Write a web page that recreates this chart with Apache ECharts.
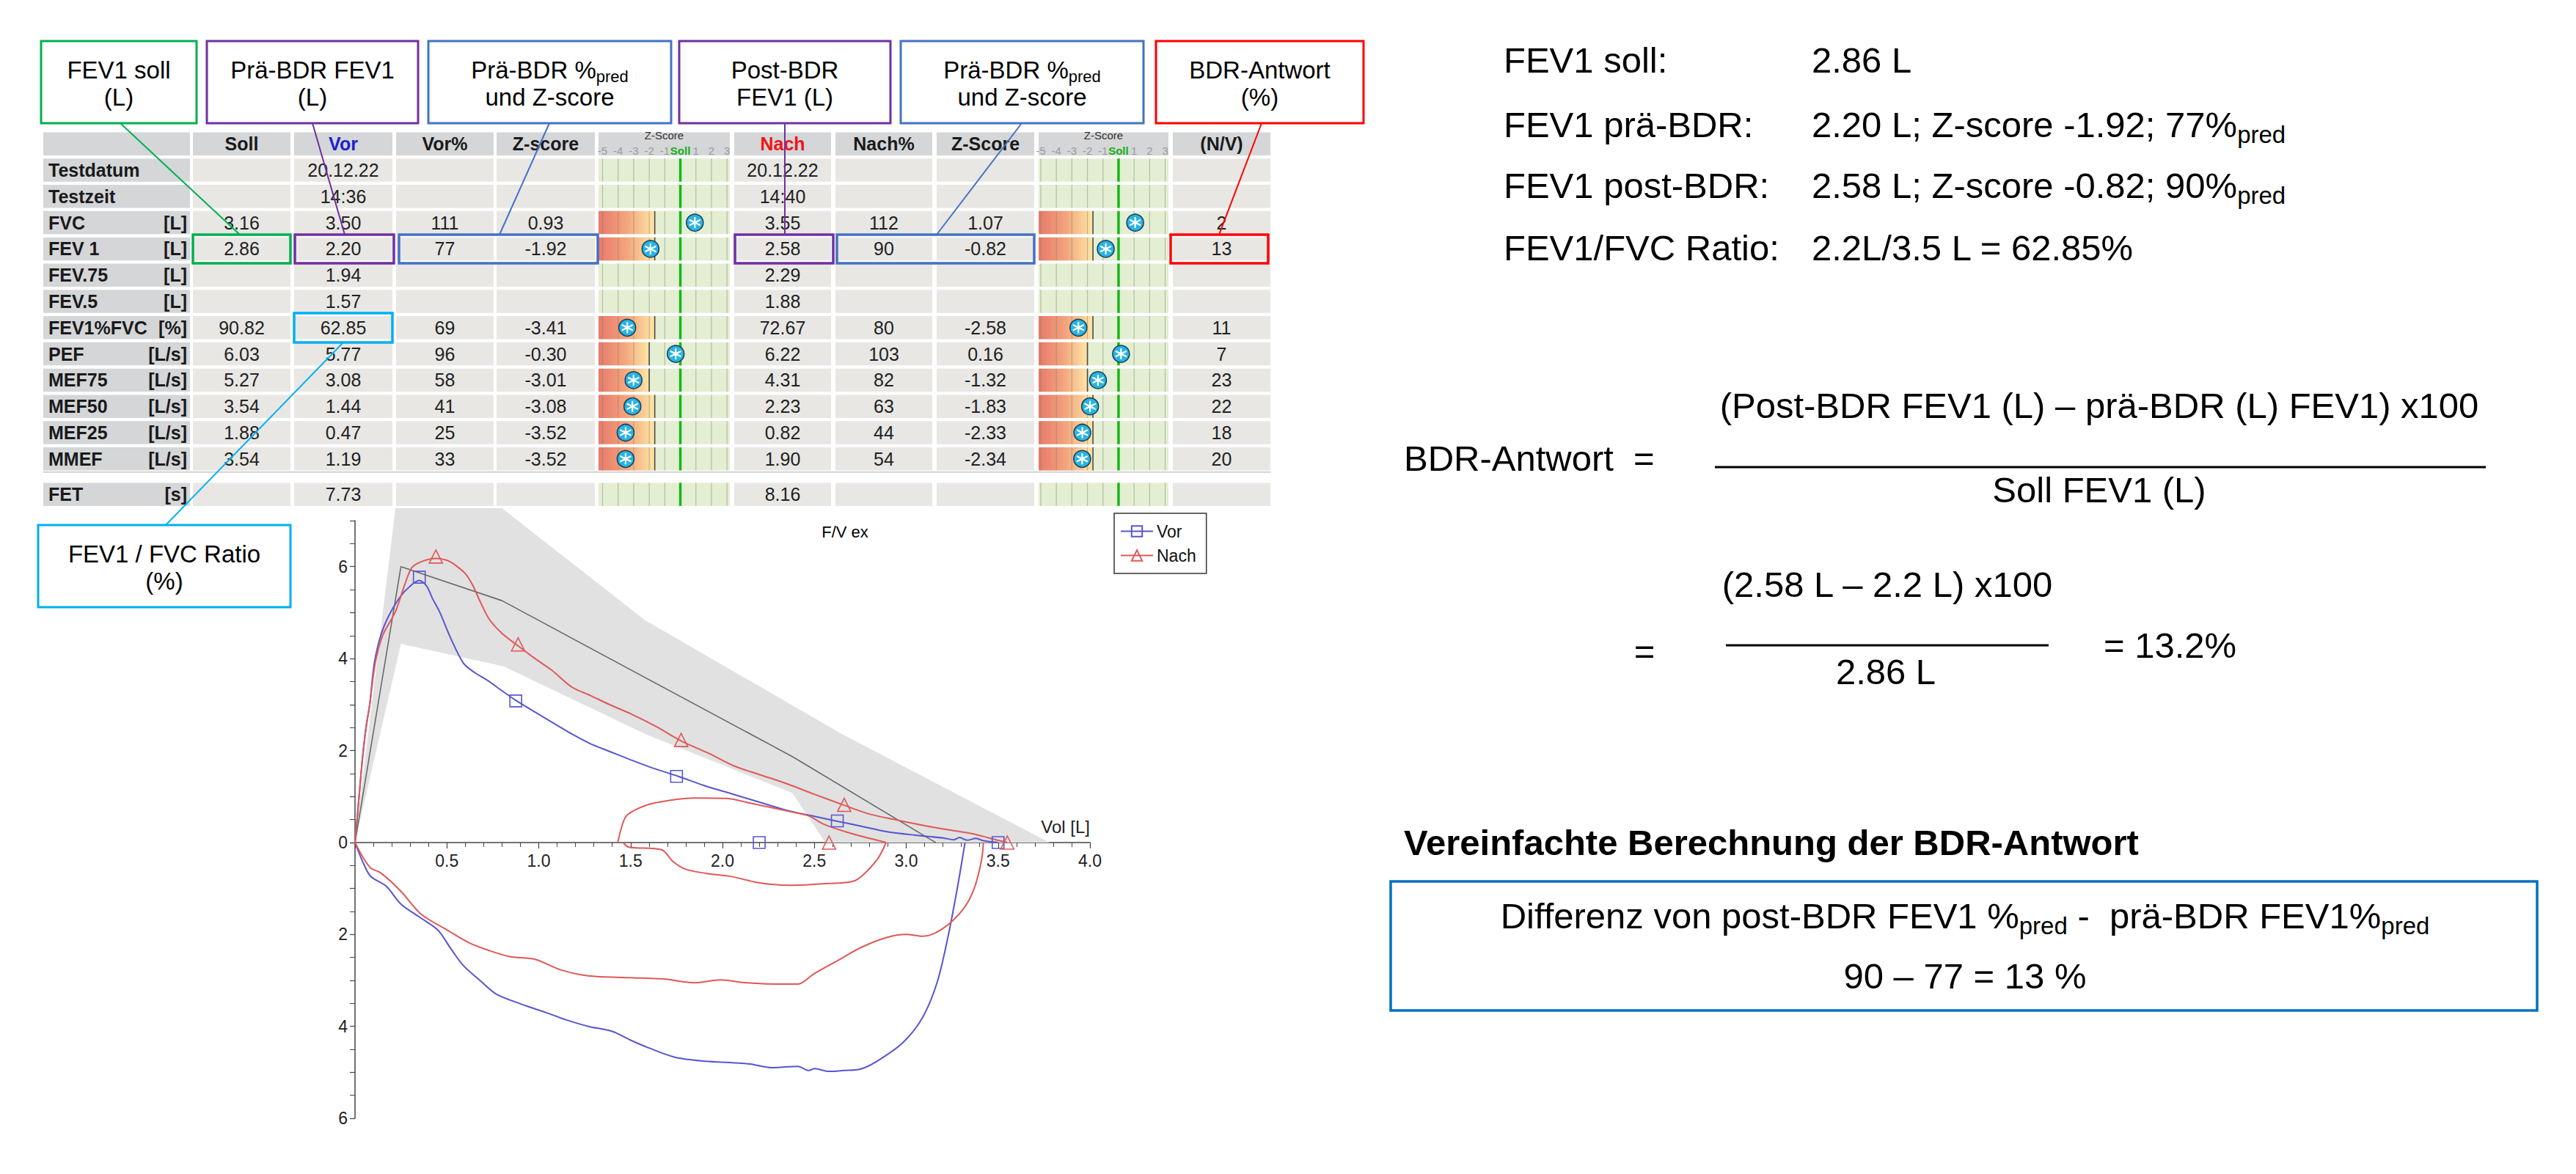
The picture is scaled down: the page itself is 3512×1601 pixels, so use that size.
<!DOCTYPE html>
<html>
<head>
<meta charset="utf-8">
<title>FEV1 BDR-Antwort</title>
<script src="https://cdn.jsdelivr.net/npm/echarts@6.0.0/dist/echarts.min.js"></script>
<style>
  html, body { margin: 0; padding: 0; background: #fff; }
  #chart { width: 3512px; height: 1601px; }
</style>
</head>
<body>
<div id="chart"></div>
<script>
const FONT = '"Liberation Sans", Arial, Helvetica, sans-serif';

// ---------- Tabellenwerte ----------
const rowLabels = ['Testdatum', 'Testzeit', 'FVC', 'FEV 1', 'FEV.75', 'FEV.5', 'FEV1%FVC', 'PEF', 'MEF75', 'MEF50', 'MEF25', 'MMEF', 'FET'];
const rowUnits = ['', '', '[L]', '[L]', '[L]', '[L]', '[%]', '[L/s]', '[L/s]', '[L/s]', '[L/s]', '[L/s]', '[s]'];
const headerLabels = ['', 'Soll', 'Vor', 'Vor%', 'Z-score', '', 'Nach', 'Nach%', 'Z-Score', '', '(N/V)'];
const sollValues = ['', '', '3.16', '2.86', '', '', '90.82', '6.03', '5.27', '3.54', '1.88', '3.54', ''];
const vorValues = ['20.12.22', '14:36', '3.50', '2.20', '1.94', '1.57', '62.85', '5.77', '3.08', '1.44', '0.47', '1.19', '7.73'];
const vorPercent = [null, null, 111, 77, null, null, 69, 96, 58, 41, 25, 33, null];
const vorZ = [null, null, 0.93, -1.92, null, null, -3.41, -0.30, -3.01, -3.08, -3.52, -3.52, null];
const nachValues = ['20.12.22', '14:40', '3.55', '2.58', '2.29', '1.88', '72.67', '6.22', '4.31', '2.23', '0.82', '1.90', '8.16'];
const nachPercent = [null, null, 112, 90, null, null, 80, 103, 82, 63, 44, 54, null];
const nachZ = [null, null, 1.07, -0.82, null, null, -2.58, 0.16, -1.32, -1.83, -2.33, -2.34, null];
const changeValues = [null, null, 2, 13, null, null, 11, 7, 23, 22, 18, 20, null];
const lowerLimitZ = [null, null, -1.645, -1.645, null, null, -1.645, -2.0, -2.0, -1.645, -1.645, -1.645, null];
const zTickValues = [-5, -4, -3, -2, -1, 0, 1, 2, 3];

// ---------- Fluss-Volumen-Kurve ----------
const predLine = [[0, 0], [0.25, 6.0], [0.80, 5.26], [2.38, 1.87], [3.16, 0]];
const bandOutline = [[0, 0], [0.22, 7.27], [0.80, 7.27], [1.58, 4.83], [2.65, 2.36], [3.78, 0],
  [2.56, 0], [2.38, 1.08], [2.06, 1.59], [1.58, 2.36], [0.81, 3.83], [0.25, 4.32]];
const vorExp = [[0, 0], [0.02, 0.9], [0.04, 1.8], [0.06, 2.5], [0.08, 3.0], [0.105, 3.9], [0.14, 4.5],
  [0.18, 4.9], [0.23, 5.25], [0.28, 5.5], [0.35, 5.7], [0.39, 5.58], [0.42, 5.32], [0.46, 5.02],
  [0.52, 4.45], [0.59, 3.9], [0.65, 3.7], [0.72, 3.53], [0.80, 3.3], [0.88, 3.08], [1.0, 2.79],
  [1.1, 2.55], [1.18, 2.36], [1.28, 2.15], [1.38, 1.99], [1.5, 1.8], [1.62, 1.62], [1.76, 1.44],
  [1.9, 1.24], [2.05, 1.06], [2.2, 0.88], [2.36, 0.69], [2.5, 0.57], [2.63, 0.46], [2.76, 0.35],
  [2.89, 0.24], [3.05, 0.16], [3.2, 0.1], [3.26, 0.06], [3.29, 0.11], [3.33, 0.05], [3.38, 0.09],
  [3.42, 0.04], [3.5, 0]];
const vorInsp = [[3.32, 0], [3.28, -0.95], [3.23, -2.0], [3.17, -3.02], [3.09, -3.8], [2.98, -4.36],
  [2.84, -4.76], [2.75, -4.93], [2.66, -4.96], [2.58, -4.98], [2.50, -4.92], [2.47, -4.96],
  [2.41, -4.87], [2.27, -4.9], [2.15, -4.82], [2.05, -4.79], [1.91, -4.76], [1.74, -4.67],
  [1.60, -4.47], [1.50, -4.3], [1.40, -4.11], [1.27, -4.0], [1.15, -3.86], [1.04, -3.7],
  [0.93, -3.55], [0.77, -3.3], [0.68, -3.0], [0.59, -2.68], [0.52, -2.3], [0.45, -1.9],
  [0.35, -1.62], [0.25, -1.34], [0.17, -0.95], [0.084, -0.73], [0.04, -0.4], [0, 0]];
const nachExp = [[0, 0], [0.02, 0.9], [0.04, 1.8], [0.06, 2.5], [0.08, 3.0], [0.11, 3.9], [0.15, 4.5],
  [0.22, 5.02], [0.27, 5.6], [0.31, 5.98], [0.37, 6.12], [0.44, 6.18], [0.50, 6.14], [0.54, 6.05],
  [0.60, 5.85], [0.64, 5.6], [0.68, 5.25], [0.73, 4.86], [0.80, 4.55], [0.89, 4.27], [0.98, 4.0],
  [1.07, 3.75], [1.18, 3.38], [1.28, 3.2], [1.38, 3.01], [1.5, 2.8], [1.64, 2.52], [1.78, 2.2],
  [1.92, 1.95], [2.06, 1.67], [2.2, 1.48], [2.35, 1.28], [2.5, 1.05], [2.67, 0.8], [2.8, 0.62],
  [2.95, 0.49], [3.15, 0.33], [3.36, 0.19], [3.45, 0.1], [3.55, 0]];
const nachInsp = [[3.42, 0], [3.41, -0.38], [3.37, -1.0], [3.31, -1.45], [3.2, -1.87], [3.09, -2.04],
  [3.0, -2.0], [2.89, -2.07], [2.75, -2.29], [2.64, -2.54], [2.50, -2.85], [2.41, -3.08],
  [2.33, -3.08], [2.13, -3.05], [1.99, -2.99], [1.85, -3.05], [1.68, -2.97], [1.49, -2.94],
  [1.27, -2.9], [1.12, -2.77], [0.98, -2.54], [0.84, -2.48], [0.73, -2.35], [0.62, -2.18],
  [0.50, -1.9], [0.36, -1.56], [0.25, -1.06], [0.14, -0.66], [0.084, -0.55], [0.04, -0.3], [0, 0]];
const nachLoopUpper = [[1.43, 0], [1.47, 0.54], [1.52, 0.7], [1.63, 0.86], [1.85, 0.97], [2.02, 0.96],
  [2.16, 0.85], [2.36, 0.68], [2.47, 0.58], [2.55, 0.40], [2.69, 0.21], [2.89, 0]];
const nachLoopLower = [[2.89, 0], [2.84, -0.38], [2.72, -0.83], [2.58, -0.89], [2.36, -0.93],
  [2.19, -0.87], [2.05, -0.74], [1.91, -0.67], [1.80, -0.58], [1.73, -0.41], [1.67, -0.16],
  [1.49, -0.10], [1.46, 0]];
const vorMarkers = [[0.35, 5.77], [0.875, 3.08], [1.75, 1.44], [2.625, 0.47], [2.20, 0], [3.50, 0]];
const nachMarkers = [[0.44, 6.22], [0.8875, 4.31], [1.775, 2.23], [2.6625, 0.82], [2.58, 0], [3.55, 0]];

// ---------- Layout ----------
const ROW_Y0 = 232, ROW_H = 35.8, CELL_HALF = 0.44;
const rowPos = [0, 1, 2, 3, 4, 5, 6, 7, 8, 9, 10, 11, 12.35];
const rowPx = v => ROW_Y0 + ROW_H * v;
const colEdges = [[59, 259], [263, 396], [401, 535], [540, 673], [677, 811], [816, 995],
  [1001, 1133], [1139, 1271], [1277, 1410], [1416, 1593], [1599, 1732]];
const headerColors = { 2: '#1f1fd0', 6: '#f01414' };
const VOR_COLOR = '#5656d0', NACH_COLOR = '#e05858';
const PLOT_LEFT = 484, PLOT_W = 1002, PLOT_TOP = 710, ZERO_Y = 1149, PLOT_BOTTOM = 1525;

function textEl(text, x, y, align, weight, color, size) {
  return {
    type: 'text',
    style: {
      text, x, y, align, textAlign: align, verticalAlign: 'middle', textVerticalAlign: 'middle',
      fill: color, font: `${weight} ${size || 25}px ${FONT}`
    }
  };
}

function cellText(col, row) {
  const fz = z => (z == null ? '' : z.toFixed(2));
  const s = x => (x == null ? '' : String(x));
  switch (col) {
    case 1: return sollValues[row];
    case 2: return vorValues[row];
    case 3: return s(vorPercent[row]);
    case 4: return fz(vorZ[row]);
    case 6: return nachValues[row];
    case 7: return s(nachPercent[row]);
    case 8: return fz(nachZ[row]);
    case 10: return s(changeValues[row]);
  }
  return '';
}

function renderTableCell(params, api) {
  const col = api.value(0);
  const row = api.value(1);
  const header = row < 0;
  const v = header ? -1 : rowPos[row];
  const [left, right] = colEdges[col];
  const p0 = api.coord([left, v - CELL_HALF]);
  const p1 = api.coord([right, v + CELL_HALF]);
  const cy = (p0[1] + p1[1]) / 2;
  const children = [{
    type: 'rect',
    shape: { x: p0[0], y: p0[1], width: p1[0] - p0[0], height: p1[1] - p0[1] },
    style: { fill: header || col === 0 ? '#d4d6d8' : '#e8e7e4' }
  }];
  if (header) {
    if (headerLabels[col]) {
      children.push(textEl(headerLabels[col], (p0[0] + p1[0]) / 2, cy, 'center', 'bold', headerColors[col] || '#1a1a1a'));
    }
  } else if (col === 0) {
    children.push(textEl(rowLabels[row], p0[0] + 7, cy, 'left', 'bold', '#1a1a1a'));
    if (rowUnits[row]) children.push(textEl(rowUnits[row], p1[0] - 4, cy, 'right', 'bold', '#1a1a1a'));
  } else {
    const t = cellText(col, row);
    if (t) children.push(textEl(t, (p0[0] + p1[0]) / 2, cy, 'center', 'normal', '#222'));
  }
  return { type: 'group', children };
}

function makeZCellRenderer(zValues, zMin, zMax) {
  return function (params, api) {
    const row = api.value(1);
    const v = rowPos[row];
    const p0 = api.coord([zMin, v - CELL_HALF]);
    const p1 = api.coord([zMax, v + CELL_HALF]);
    const y0 = p0[1], h = p1[1] - p0[1];
    const children = [{ type: 'rect', shape: { x: p0[0], y: y0, width: p1[0] - p0[0], height: h }, style: { fill: '#e3eed3' } }];
    const hasValue = zValues[row] != null;
    let llnX = 0;
    if (hasValue) {
      llnX = api.coord([lowerLimitZ[row], v])[0];
      children.push({
        type: 'rect',
        shape: { x: p0[0], y: y0, width: llnX - p0[0], height: h },
        style: {
          fill: new echarts.graphic.LinearGradient(0, 0, 1, 0, [
            { offset: 0, color: '#e8796a' }, { offset: 0.5, color: '#f3a47d' }, { offset: 1, color: '#fee6a6' }
          ])
        }
      });
    }
    zTickValues.forEach(t => {
      const x = api.coord([t, v])[0];
      children.push({
        type: 'line',
        shape: { x1: x, y1: y0, x2: x, y2: y0 + h },
        style: { stroke: t === 0 ? '#14b814' : 'rgba(120,130,100,0.45)', lineWidth: t === 0 ? 3.5 : 1.2 }
      });
    });
    if (hasValue) {
      children.push({ type: 'line', shape: { x1: llnX, y1: y0, x2: llnX, y2: y0 + h }, style: { stroke: '#4a4a4a', lineWidth: 1.6 } });
    }
    return { type: 'group', children };
  };
}

function zAxis(gridIndex, min, max) {
  return {
    type: 'value', gridIndex, min, max, position: 'top', z: 10,
    name: 'Z-Score', nameLocation: 'middle', nameGap: 24,
    nameTextStyle: { fontSize: 15, color: '#333', fontFamily: FONT },
    axisLine: { show: false }, axisTick: { show: false }, splitLine: { show: false },
    axisLabel: {
      customValues: zTickValues, margin: 3, fontSize: 15, color: '#9a9a9a', fontFamily: FONT,
      formatter: v => (v === 0 ? '{soll|Soll}' : String(v)),
      rich: { soll: { color: '#16b016', fontWeight: 'bold', fontSize: 15, fontFamily: FONT } }
    }
  };
}

function hiddenAxis(gridIndex, min, max, inverse) {
  return { type: 'value', gridIndex, min, max, inverse: !!inverse, show: false };
}

function zMarkers(zValues) {
  return zValues.map((z, i) => (z == null ? null : [z, rowPos[i]])).filter(Boolean);
}

const ASTERISK = 'path://M10 1 L10 19 M2.2 5.5 L17.8 14.5 M2.2 14.5 L17.8 5.5';

function zSeries(axisIndex, zValues, zMin, zMax) {
  const rows = rowPos.map((p, i) => [0, i]);
  return [
    { type: 'custom', xAxisIndex: axisIndex, yAxisIndex: axisIndex, renderItem: makeZCellRenderer(zValues, zMin, zMax), data: rows, silent: true, z: 2 },
    { type: 'scatter', xAxisIndex: axisIndex, yAxisIndex: axisIndex, data: zMarkers(zValues), symbol: 'circle', symbolSize: 23,
      itemStyle: { color: '#27b4e4', borderColor: '#1d3c55', borderWidth: 1.5, opacity: 1 }, silent: true, z: 4 },
    { type: 'scatter', xAxisIndex: axisIndex, yAxisIndex: axisIndex, data: zMarkers(zValues), symbol: ASTERISK, symbolSize: 15,
      itemStyle: { color: 'rgba(0,0,0,0)', borderColor: '#fff', borderWidth: 2.2, opacity: 1 }, silent: true, z: 5 }
  ];
}

const tableData = [];
for (let r = -1; r < rowLabels.length; r++) {
  for (let c = 0; c < colEdges.length; c++) {
    if (r >= 0 && (c === 5 || c === 9)) continue;
    tableData.push([c, r]);
  }
}

// ---------- Beschriftungen ----------
const boxRich = {
  t: { fontSize: 33, fontFamily: FONT, lineHeight: 40 },
  s: { fontSize: 22, fontFamily: FONT, lineHeight: 20, verticalAlign: 'bottom' }
};
const bigRich = {
  t: { fontSize: 49, fontFamily: FONT, lineHeight: 60 },
  s: { fontSize: 33, fontFamily: FONT, lineHeight: 30, verticalAlign: 'bottom' }
};
const calloutBoxes = [
  { x: 56, y: 56, w: 212, h: 112, color: '#00b050', lines: ['FEV1 soll', '(L)'] },
  { x: 282, y: 56, w: 288, h: 112, color: '#7030a0', lines: ['Prä-BDR FEV1', '(L)'] },
  { x: 584, y: 56, w: 331, h: 112, color: '#4472c4', lines: ['{t|Prä-BDR %}{s|pred}', 'und Z-score'] },
  { x: 926, y: 56, w: 288, h: 112, color: '#7030a0', lines: ['Post-BDR', 'FEV1 (L)'] },
  { x: 1228, y: 56, w: 331, h: 112, color: '#4472c4', lines: ['{t|Prä-BDR %}{s|pred}', 'und Z-score'] },
  { x: 1576, y: 56, w: 283, h: 112, color: '#ff0000', lines: ['BDR-Antwort', '(%)'] },
  { x: 52, y: 716, w: 344, h: 112, color: '#00b0f0', lines: ['FEV1 / FVC Ratio', '(%)'] }
];
const highlightRects = [
  { x: 263, y: 320, w: 133, h: 39, color: '#00b050' },
  { x: 402, y: 320, w: 135, h: 39, color: '#7030a0' },
  { x: 544, y: 320, w: 271, h: 39, color: '#4472c4' },
  { x: 1002, y: 320, w: 134, h: 39, color: '#7030a0' },
  { x: 1141, y: 320, w: 269, h: 39, color: '#4472c4' },
  { x: 1596, y: 320, w: 133, h: 39, color: '#ff0000' },
  { x: 401, y: 427, w: 134, h: 40, color: '#00b0f0' }
];
const connectors = [
  { from: [164, 168], to: [327, 320], color: '#00b050' },
  { from: [426, 168], to: [470, 320], color: '#7030a0' },
  { from: [749, 168], to: [681, 320], color: '#4472c4' },
  { from: [1070, 168], to: [1070, 320], color: '#7030a0' },
  { from: [1393, 168], to: [1277, 320], color: '#4472c4' },
  { from: [1720, 168], to: [1662, 320], color: '#ff0000' },
  { from: [468, 467], to: [226, 716], color: '#00b0f0' }
];
const summaryLabels = ['FEV1 soll:', 'FEV1 prä-BDR:', 'FEV1 post-BDR:', 'FEV1/FVC Ratio:'];
const summaryValues = ['2.86 L', '{t|2.20 L; Z-score -1.92; 77%}{s|pred}', '{t|2.58 L; Z-score -0.82; 90%}{s|pred}', '2.2L/3.5 L = 62.85%'];
const summaryY = [82, 170, 253, 338];

function gText(text, x, y, align, opts) {
  opts = opts || {};
  return {
    type: 'text', z: 60,
    style: {
      text, x, y, align, textAlign: align, verticalAlign: 'middle', textVerticalAlign: 'middle',
      fill: '#000', font: `${opts.weight || 'normal'} ${opts.size || 49}px ${FONT}`, rich: opts.rich || bigRich
    }
  };
}

const graphics = [];
// Trennlinie vor FET
graphics.push({ type: 'line', z: 40, shape: { x1: 59, y1: rowPx(11.5), x2: 1732, y2: rowPx(11.5) }, style: { stroke: '#d2d2d2', lineWidth: 2 } });
calloutBoxes.forEach(b => {
  graphics.push({ type: 'rect', z: 50, shape: { x: b.x, y: b.y, width: b.w, height: b.h }, style: { fill: '#fff', stroke: b.color, lineWidth: 3 } });
  b.lines.forEach((t, i) => graphics.push(gText(t, b.x + b.w / 2, b.y + 39 + i * 37, 'center', { size: 33, rich: boxRich })));
});
highlightRects.forEach(r => graphics.push({ type: 'rect', z: 55, shape: { x: r.x, y: r.y, width: r.w, height: r.h }, style: { fill: 'none', stroke: r.color, lineWidth: 3.5 } }));
connectors.forEach(c => graphics.push({ type: 'line', z: 56, shape: { x1: c.from[0], y1: c.from[1], x2: c.to[0], y2: c.to[1] }, style: { stroke: c.color, lineWidth: 2 } }));
summaryLabels.forEach((t, i) => {
  graphics.push(gText(t, 2050, summaryY[i], 'left'));
  graphics.push(gText(summaryValues[i], 2470, summaryY[i], 'left'));
});
// Formel
graphics.push(gText('BDR-Antwort  =', 1914, 625, 'left'));
graphics.push(gText('(Post-BDR FEV1 (L) – prä-BDR (L) FEV1) x100', 2862, 553, 'center'));
graphics.push({ type: 'line', z: 60, shape: { x1: 2338, y1: 637, x2: 3389, y2: 637 }, style: { stroke: '#000', lineWidth: 3 } });
graphics.push(gText('Soll FEV1 (L)', 2862, 668, 'center'));
graphics.push(gText('=', 2242, 888, 'center'));
graphics.push(gText('(2.58 L – 2.2 L) x100', 2573, 797, 'center'));
graphics.push({ type: 'line', z: 60, shape: { x1: 2353, y1: 880, x2: 2793, y2: 880 }, style: { stroke: '#000', lineWidth: 3 } });
graphics.push(gText('2.86 L', 2571, 916, 'center'));
graphics.push(gText('= 13.2%', 2868, 880, 'left'));
// Vereinfachte Berechnung
graphics.push(gText('Vereinfachte Berechnung der BDR-Antwort', 1914, 1149, 'left', { weight: 'bold' }));
graphics.push({ type: 'rect', z: 58, shape: { x: 1896, y: 1202, width: 1563, height: 176 }, style: { fill: '#fff', stroke: '#0070c0', lineWidth: 3.5 } });
graphics.push(gText('{t|Differenz von post-BDR FEV1 %}{s|pred}{t| -  prä-BDR FEV1%}{s|pred}', 2679, 1249, 'center'));
graphics.push(gText('90 – 77 = 13 %', 2679, 1331, 'center'));
// Diagrammtitel
graphics.push(gText('F/V ex', 1152, 725, 'center', { size: 22 }));

const lineBase = { type: 'line', smooth: 0.3, showSymbol: false, silent: true, clip: false, z: 3 };
const upper = { xAxisIndex: 3, yAxisIndex: 3 };
const lower = { xAxisIndex: 4, yAxisIndex: 4 };
const tickStyle = { color: '#444', width: 1.2 };

const option = {
  animation: false,
  backgroundColor: '#fff',
  textStyle: { fontFamily: FONT },
  grid: [
    { left: 59, top: rowPx(-1.5), width: 1673, height: ROW_H * 14.35 },
    { left: 816, top: rowPx(-0.45), width: 179, height: ROW_H * 13.25 },
    { left: 1416, top: rowPx(-0.45), width: 177, height: ROW_H * 13.25 },
    { left: PLOT_LEFT, top: PLOT_TOP, width: PLOT_W, height: ZERO_Y - PLOT_TOP },
    { left: PLOT_LEFT, top: ZERO_Y, width: PLOT_W, height: PLOT_BOTTOM - ZERO_Y }
  ],
  xAxis: [
    hiddenAxis(0, 59, 1732),
    zAxis(1, -5.26, 3.18),
    zAxis(2, -5.14, 3.21),
    {
      type: 'value', gridIndex: 3, min: 0, max: 4, interval: 0.5, position: 'bottom',
      name: 'Vol [L]', nameLocation: 'end', nameGap: 0,
      nameTextStyle: { fontSize: 24, color: '#222', align: 'right', verticalAlign: 'bottom', padding: [0, 0, 10, 0], fontFamily: FONT },
      axisLine: { onZero: false, lineStyle: { color: '#444', width: 1.5 } },
      axisTick: { length: 8, lineStyle: tickStyle },
      minorTick: { show: true, splitNumber: 5, length: 6, lineStyle: { color: '#444', width: 1 } },
      axisLabel: { showMinLabel: false, formatter: v => v.toFixed(1), fontSize: 23, color: '#222', margin: 13, fontFamily: FONT },
      splitLine: { show: false }
    },
    hiddenAxis(4, 0, 4)
  ],
  yAxis: [
    hiddenAxis(0, -1.5, 12.85, true),
    hiddenAxis(1, -0.45, 12.8, true),
    hiddenAxis(2, -0.45, 12.8, true),
    {
      type: 'value', gridIndex: 3, min: 0, max: 7, interval: 1,
      axisLine: { show: true, onZero: false, lineStyle: { color: '#444', width: 1.5 } },
      axisTick: { length: 7, lineStyle: tickStyle },
      minorTick: { show: true, splitNumber: 2, length: 7, lineStyle: { color: '#444', width: 1 } },
      axisLabel: { formatter: v => (v % 2 === 0 ? String(v) : ''), fontSize: 23, color: '#222', margin: 10, fontFamily: FONT, showMaxLabel: false },
      splitLine: { show: false }
    },
    {
      type: 'value', gridIndex: 4, min: -6, max: 0, interval: 1,
      axisLine: { show: true, onZero: false, lineStyle: { color: '#444', width: 1.5 } },
      axisTick: { length: 7, lineStyle: tickStyle },
      minorTick: { show: true, splitNumber: 2, length: 7, lineStyle: { color: '#444', width: 1 } },
      axisLabel: { formatter: v => (v % 2 === 0 && v !== 0 ? String(Math.abs(v)) : ''), fontSize: 23, color: '#222', margin: 10, fontFamily: FONT },
      splitLine: { show: false }
    }
  ],
  legend: {
    data: ['Vor', 'Nach'], orient: 'vertical', left: 1519, top: 700,
    padding: [13, 14, 13, 8], itemGap: 10, itemWidth: 44, itemHeight: 18,
    borderColor: '#333', borderWidth: 1.5, backgroundColor: '#fff',
    textStyle: { fontSize: 23, color: '#111', fontFamily: FONT }
  },
  graphic: { elements: graphics },
  series: [
    { type: 'custom', xAxisIndex: 0, yAxisIndex: 0, renderItem: renderTableCell, data: tableData, silent: true, z: 1 },
    ...zSeries(1, vorZ, -5.26, 3.18),
    ...zSeries(2, nachZ, -5.14, 3.21),
    {
      type: 'custom', ...upper, data: bandOutline, silent: true, z: 1, clip: false,
      renderItem: (params, api) => {
        if (params.dataIndex !== 0) return null;
        return { type: 'polygon', shape: { points: bandOutline.map(p => api.coord(p)) }, style: { fill: '#e1e1e1' } };
      }
    },
    { ...lineBase, ...upper, data: predLine, smooth: false, symbol: 'none', lineStyle: { color: '#6a6a6a', width: 1.6 }, z: 2 },
    { ...lineBase, ...upper, name: 'Vor', data: vorExp, symbol: 'rect', symbolSize: 14,
      lineStyle: { color: VOR_COLOR, width: 2 }, itemStyle: { color: 'rgba(0,0,0,0)', borderColor: VOR_COLOR, borderWidth: 1.5 } },
    { ...lineBase, ...lower, data: vorInsp, symbol: 'none', lineStyle: { color: VOR_COLOR, width: 2 } },
    { ...lineBase, ...upper, name: 'Nach', data: nachExp, symbol: 'triangle', symbolSize: 14,
      lineStyle: { color: NACH_COLOR, width: 2 }, itemStyle: { color: 'rgba(0,0,0,0)', borderColor: NACH_COLOR, borderWidth: 1.5 } },
    { ...lineBase, ...lower, data: nachInsp, symbol: 'none', lineStyle: { color: NACH_COLOR, width: 2 } },
    { ...lineBase, ...upper, data: nachLoopUpper, symbol: 'none', lineStyle: { color: NACH_COLOR, width: 2 } },
    { ...lineBase, ...lower, data: nachLoopLower, symbol: 'none', lineStyle: { color: NACH_COLOR, width: 2 } },
    { type: 'scatter', ...upper, data: vorMarkers, symbol: 'rect', symbolSize: 16, silent: true, z: 4,
      itemStyle: { color: 'rgba(0,0,0,0)', borderColor: VOR_COLOR, borderWidth: 1.6, opacity: 1 } },
    { type: 'scatter', ...upper, data: nachMarkers, symbol: 'triangle', symbolSize: 18, silent: true, z: 4,
      itemStyle: { color: 'rgba(0,0,0,0)', borderColor: NACH_COLOR, borderWidth: 1.6, opacity: 1 } }
  ]
};

const chart = echarts.init(document.getElementById('chart'), null, { renderer: 'svg', width: 3512, height: 1601 });
chart.setOption(option);
</script>
</body>
</html>
